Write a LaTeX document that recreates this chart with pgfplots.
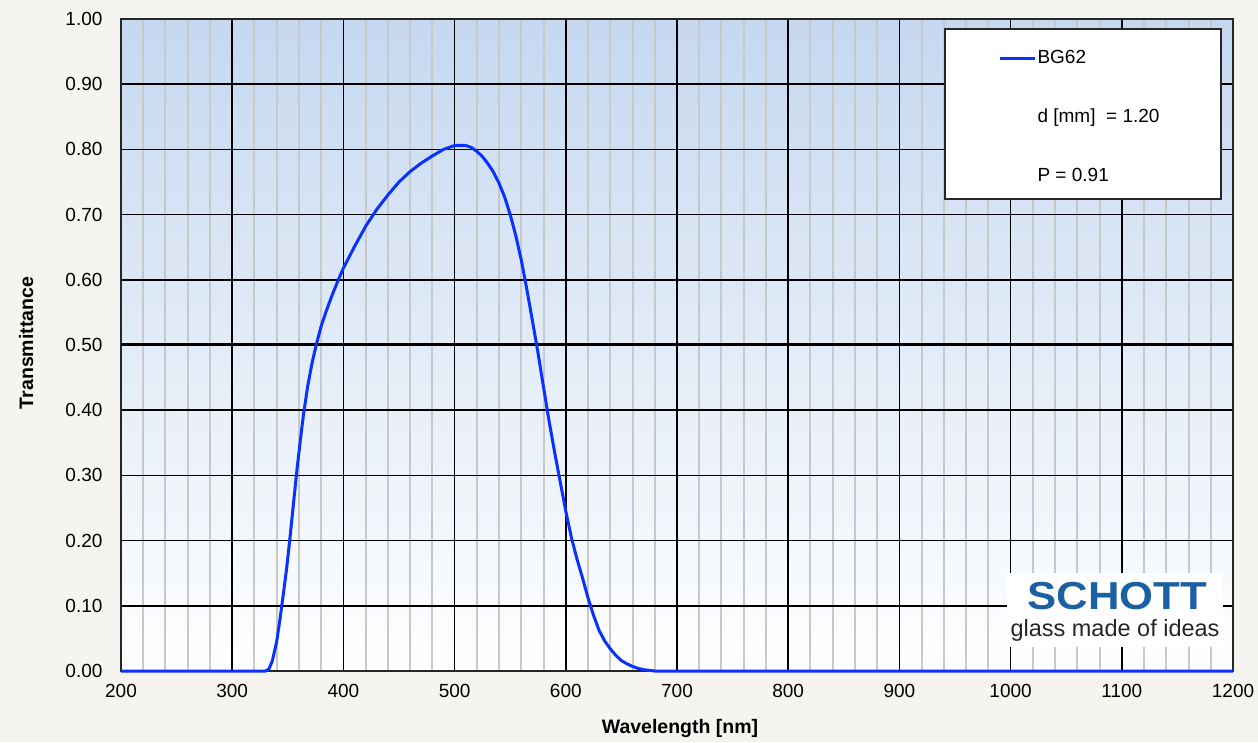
\documentclass[border=0pt]{standalone}
\usepackage{fontspec}
\setmainfont{Liberation Sans}
\usepackage{pgfplots}
\pgfplotsset{compat=1.18}
\definecolor{pagebg}{RGB}{245,244,240}
\definecolor{topblue}{RGB}{197,216,240}
\definecolor{curveblue}{RGB}{10,50,255}
\definecolor{minorgrid}{RGB}{200,200,200}
\definecolor{schottblue}{RGB}{28,96,164}
\begin{document}
\begin{tikzpicture}
\fill[pagebg] (-121pt,-71pt) rectangle (1137pt,671pt);
\begin{axis}[
  at={(0pt,0pt)}, anchor=south west,
  scale only axis, width=1112pt, height=652pt,
  xmin=200, xmax=1200, ymin=0, ymax=1,
  xtick={200,300,400,500,600,700,800,900,1000,1100,1200},
  minor x tick num=4,
  ytick={0,0.1,0.2,0.3,0.4,0.5,0.6,0.7,0.8,0.9,1},
  /pgf/number format/assume math mode=true,
  yticklabel style={/pgf/number format/fixed, /pgf/number format/fixed zerofill, /pgf/number format/precision=2, xshift=-15pt},
  xticklabel style={/pgf/number format/1000 sep={}, yshift=-10pt},
  tick label style={font=\fontsize{19}{23}\selectfont},
  major tick length=0pt, minor tick length=0pt,
  grid=both,
  major grid style={black, line width=1.5pt},
  minor grid style={minorgrid, line width=2pt},
  extra y ticks={0.5}, extra y tick labels={},
  extra y tick style={grid=major, major grid style={black, line width=3pt}},
  axis line style={black!85, line width=2pt},
  axis background/.style={top color=topblue, bottom color=white},
  clip=false,
  xlabel={Wavelength [nm]},
  xlabel style={at={(axis description cs:0.5027,-0.0956)}, anchor=base, font=\fontsize{19.5}{23}\selectfont\bfseries},
  ylabel={Transmittance},
  ylabel style={at={(axis description cs:-0.0791,0.503)}, anchor=base, rotate=0, font=\fontsize{19.5}{23}\selectfont\bfseries},
  legend style={at={(axis cs:988.7,0.9525)}, anchor=north west, draw=none, fill=none,
    inner sep=0pt, outer sep=0pt, row sep=41pt, column sep=1.5pt,
    font=\fontsize{19}{23}\selectfont,
    nodes={inner sep=0pt, text height=14pt, text depth=4pt, anchor=west}},
  legend cell align=left,
  legend image code/.code={\draw[#1] (0pt,0pt) -- (35pt,0pt);},
]
\addplot[curveblue, line width=3pt] coordinates {
(200,0) (330,0) (333,0.003) (336,0.015) (340,0.045) (343,0.08) (346,0.118)
(349,0.158) (352,0.205) (355,0.255) (358,0.305) (361,0.35) (364,0.392)
(368,0.438) (372,0.474) (376,0.503) (380,0.529) (385,0.554) (390,0.577)
(395,0.598) (400,0.618) (410,0.651) (420,0.682) (430,0.708) (440,0.73)
(450,0.75) (460,0.766) (470,0.779) (480,0.79) (490,0.8) (500,0.806)
(510,0.806) (515,0.803) (520,0.797) (525,0.789) (530,0.778) (535,0.765)
(540,0.748) (545,0.727) (550,0.700) (555,0.668) (560,0.630) (565,0.585)
(570,0.537) (575,0.488) (580,0.435) (585,0.383) (590,0.335) (595,0.290)
(600,0.245) (605,0.205) (610,0.172) (615,0.143) (620,0.112) (625,0.085)
(630,0.062) (635,0.046) (640,0.034) (645,0.024) (650,0.016) (655,0.011)
(660,0.007) (665,0.004) (670,0.002) (675,0.001) (680,0) (1200,0)
};
\addlegendentry{BG62}
\addlegendimage{empty legend}
\addlegendentry{d [mm]~~= 1.20}
\addlegendimage{empty legend}
\addlegendentry{P = 0.91}
\draw[black!85, line width=1.5pt, fill=white] (axis cs:941,0.7239) rectangle (axis cs:1189.2,0.9847);
\fill[white] (axis cs:996.8,0.0373) rectangle (axis cs:1191,0.1503);
\node[anchor=base, text=schottblue, font=\fontsize{39}{40}\selectfont\bfseries, xscale=1.12, inner sep=0pt] at (axis cs:1096.1,0.0936) {SCHOTT};
\node[anchor=base, text=black!85, font=\fontsize{23.5}{24}\selectfont, inner sep=0pt] at (axis cs:1093.9,0.0526) {glass made of ideas};
\end{axis}
\pgfresetboundingbox
\path[use as bounding box] (-121pt,-71pt) rectangle (1137pt,671pt);
\end{tikzpicture}
\end{document}
